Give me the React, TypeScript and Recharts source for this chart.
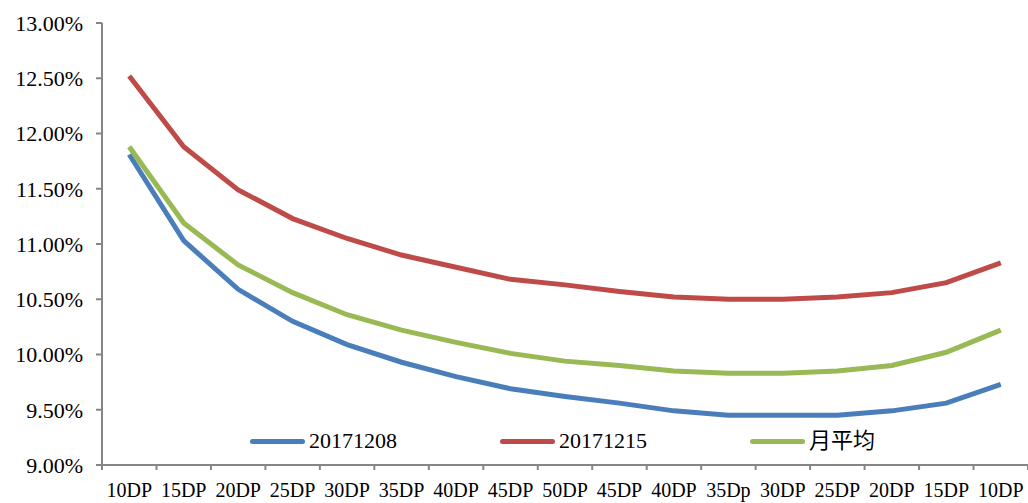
import React from 'react';
import { LineChart, Line, XAxis, YAxis } from 'recharts';

const categories = ['10DP', '15DP', '20DP', '25DP', '30DP', '35DP', '40DP', '45DP', '50DP', '45DP', '40DP', '35Dp', '30DP', '25DP', '20DP', '15DP', '10DP'];
const s1208 = [11.81, 11.03, 10.59, 10.3, 10.09, 9.93, 9.8, 9.69, 9.62, 9.56, 9.49, 9.45, 9.45, 9.45, 9.49, 9.56, 9.73];
const s1215 = [12.52, 11.88, 11.49, 11.23, 11.05, 10.9, 10.79, 10.68, 10.63, 10.57, 10.52, 10.5, 10.5, 10.52, 10.56, 10.65, 10.83];
const avg = [11.88, 11.19, 10.81, 10.56, 10.36, 10.22, 10.11, 10.01, 9.94, 9.9, 9.85, 9.83, 9.83, 9.85, 9.9, 10.02, 10.22];
const yTicks = [9, 9.5, 10, 10.5, 11, 11.5, 12, 12.5, 13];

const data = categories.map((cat, i) => ({ cat, a: s1208[i], b: s1215[i], c: avg[i] }));

const SERIES = [
  { key: 'a', name: '20171208', color: '#4A7EBB' },
  { key: 'b', name: '20171215', color: '#BE4B48' },
  { key: 'c', name: '月平均', color: '#98B954' },
];

const FONT = '"Liberation Serif", "Noto Sans CJK SC", serif';
const PLOT_W = 926;
const HALF = PLOT_W / categories.length / 2;
const AXIS_GRAY = '#868686';

// category label plus the Excel-style tick mark on the category boundary
function CatTick(props: any) {
  const { x, y, payload, index } = props;
  return (
    <g>
      <line x1={x - HALF} y1={y} x2={x - HALF} y2={y + 5} stroke={AXIS_GRAY} strokeWidth={2} />
      {index === categories.length - 1 && (
        <line x1={x + HALF} y1={y} x2={x + HALF} y2={y + 5} stroke={AXIS_GRAY} strokeWidth={2} />
      )}
      <text x={x} y={y + 32} textAnchor="middle" fill="#000" fontSize={20} fontFamily={FONT}>
        {payload.value}
      </text>
    </g>
  );
}

function LegendBox() {
  return (
    <div style={{ position: 'absolute', left: 0, top: 428, width: 1028, height: 26, fontFamily: FONT, fontSize: 22, color: '#000' }}>
      {SERIES.map((s, i) => (
        <div key={s.key} style={{ position: 'absolute', left: 250 + i * 250, top: 0, display: 'flex', alignItems: 'center', lineHeight: '26px' }}>
          <span style={{ display: 'inline-block', width: 55, height: 5, borderRadius: 3, background: s.color, marginRight: 4 }} />
          <span>{s.name}</span>
        </div>
      ))}
    </div>
  );
}

export default function App() {
  return (
    <div style={{ position: 'absolute', left: 0, top: 0, width: 1028, height: 503, background: '#fff' }}>
      <LineChart width={1028} height={503} data={data} margin={{ top: 23, right: 0, bottom: 0, left: 0 }}>
        <XAxis
          dataKey="cat"
          height={38}
          padding={{ left: HALF, right: HALF }}
          axisLine={{ stroke: AXIS_GRAY, strokeWidth: 2 }}
          tickLine={false}
          tickSize={0}
          tickMargin={0}
          interval={0}
          tick={<CatTick />}
        />
        <YAxis
          width={102}
          domain={[9, 13]}
          ticks={yTicks}
          tickFormatter={(v: number) => v.toFixed(2) + '%'}
          axisLine={{ stroke: AXIS_GRAY, strokeWidth: 2 }}
          tickLine={{ stroke: AXIS_GRAY, strokeWidth: 2 }}
          tickSize={6}
          tickMargin={13}
          tick={{ fill: '#000', fontSize: 22, fontFamily: FONT }}
        />
        {SERIES.map((s) => (
          <Line
            key={s.key}
            type="linear"
            dataKey={s.key}
            name={s.name}
            stroke={s.color}
            strokeWidth={5}
            dot={false}
            activeDot={false}
            isAnimationActive={false}
          />
        ))}
      </LineChart>
      <LegendBox />
    </div>
  );
}
